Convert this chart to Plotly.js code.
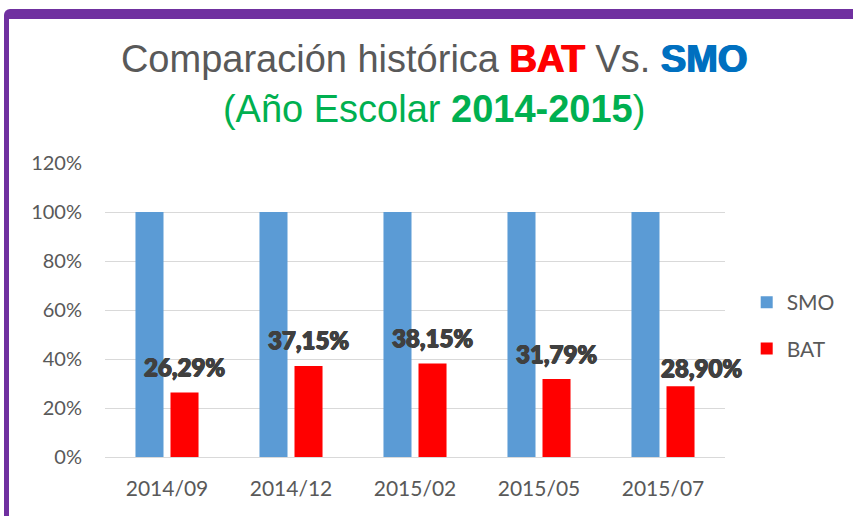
<!DOCTYPE html>
<html>
<head>
<meta charset="utf-8">
<script src="https://cdn.plot.ly/plotly-3.0.1.min.js"></script>
<style>
  html, body { margin: 0; padding: 0; background: #ffffff; }
  #wrap { position: relative; width: 853px; height: 516px; overflow: hidden; }
  #chart { position: absolute; left: 0; top: 0; width: 853px; height: 516px; }
  #frame {
    position: absolute; left: 4px; top: 9px; width: 880px; height: 497px;
    border-left: 5px solid #7030A0; border-top: 10px solid #7030A0; border-bottom: 4px solid #7030A0;
    border-top-left-radius: 6px; border-bottom-left-radius: 3px;
    pointer-events: none;
  }
</style>
</head>
<body>
<div id="wrap">
  <div id="chart"></div>
  <div id="frame"></div>
</div>
<script>
// ---- data ----
const categories = ["2014/09", "2014/12", "2015/02", "2015/05", "2015/07"];
const smoValues = [100, 100, 100, 100, 100];
const batValues = [26.29, 37.15, 38.15, 31.79, 28.90];
const yTickValues = [0, 20, 40, 60, 80, 100, 120];
const yTickLabels = ["0%", "20%", "40%", "60%", "80%", "100%", "120%"];
const seriesNames = ["SMO", "BAT"];

function fmtPct(v) {
  return v.toFixed(2).replace(".", ",") + "%";
}

const traces = [
  {
    type: "bar", name: seriesNames[0], x: categories, y: smoValues,
    marker: { color: "#5B9BD5" }, legendgroup: "a", hoverinfo: "skip"
  },
  {
    type: "bar", name: seriesNames[1], x: categories, y: batValues,
    marker: { color: "#FF0000" }, legendgroup: "b", hoverinfo: "skip"
  }
];

const heavy = "0.7px 0 0 #404040, -0.7px 0 0 #404040, 0 0.5px 0 #404040, 0 -0.5px 0 #404040";

const annotations = batValues.map((v, i) => ({
  x: categories[i], y: v, xref: "x", yref: "y",
  text: fmtPct(v), showarrow: false,
  xanchor: "center", yanchor: "middle",
  xshift: 17.5 + (i === batValues.length - 1 ? 21 : 0),
  yshift: (i === batValues.length - 1 ? 19 : 26),
  font: { family: "Lato, 'Liberation Sans', sans-serif", size: 24, color: "#404040", weight: 900, shadow: heavy }
}));

const titleText =
  '<span style="color:#595959">Comparación histórica </span>' +
  '<span style="color:#FF0000;font-weight:900;text-shadow:0.8px 0 0 #FF0000,-0.8px 0 0 #FF0000">BAT</span>' +
  '<span style="color:#595959"> Vs. </span>' +
  '<span style="color:#0070C0;font-weight:900;text-shadow:0.8px 0 0 #0070C0,-0.8px 0 0 #0070C0">SMO</span>' +
  '<br><span style="color:#00B050">(Año Escolar </span>' +
  '<span style="color:#00B050;font-weight:bold">2014-2015</span>' +
  '<span style="color:#00B050">)</span>';

const layout = {
  width: 853, height: 516,
  margin: { l: 105, r: 128, t: 163, b: 59, autoexpand: false },
  paper_bgcolor: "rgba(0,0,0,0)",
  plot_bgcolor: "#ffffff",
  title: {
    text: titleText,
    font: { family: "'Liberation Sans', Arial, sans-serif", size: 38, color: "#595959" },
    x: 0.509, xref: "container", xanchor: "center",
    y: 0.86, yref: "container", yanchor: "top"
  },
  barmode: "group",
  bargap: 0.435,
  bargroupgap: 0.2,
  showlegend: true,
  legend: {
    x: 1.035, xref: "paper", xanchor: "left",
    y: 0.447, yref: "paper", yanchor: "middle",
    font: { family: "Lato, 'Liberation Sans', sans-serif", size: 21, color: "#595959" },
    tracegroupgap: 16,
    traceorder: "grouped",
    bgcolor: "rgba(0,0,0,0)"
  },
  xaxis: {
    type: "category",
    range: [-0.5, categories.length - 0.5],
    autorange: false,
    showgrid: false,
    showline: true, linecolor: "#D9D9D9", linewidth: 1,
    ticks: "", ticklabelstandoff: 13,
    tickfont: { family: "Lato, 'Liberation Sans', sans-serif", size: 21, color: "#595959" },
    fixedrange: true
  },
  yaxis: {
    range: [0, 120],
    autorange: false,
    tickvals: yTickValues, ticktext: yTickLabels,
    showgrid: true, gridcolor: "#D9D9D9", gridwidth: 1,
    zeroline: false, showline: false,
    ticks: "", ticklabelstandoff: 22,
    tickfont: { family: "Lato, 'Liberation Sans', sans-serif", size: 20, color: "#595959" },
    fixedrange: true
  },
  annotations: annotations
};

Plotly.newPlot("chart", traces, layout, { displayModeBar: false, staticPlot: true });
</script>
</body>
</html>
